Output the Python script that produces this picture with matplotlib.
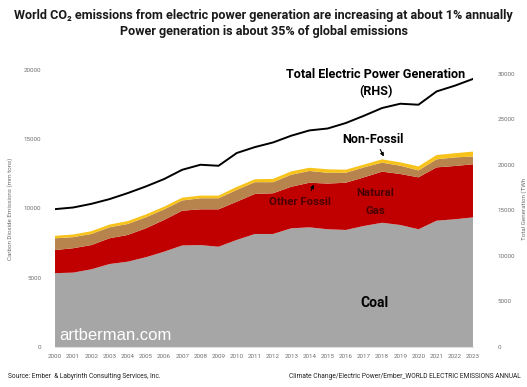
import numpy as np
import matplotlib
matplotlib.use("Agg")
import matplotlib.pyplot as plt

# data
years = list(range(2000, 2024))
coal = [5330, 5370, 5610, 5990, 6160, 6480, 6880, 7330, 7360, 7240, 7730, 8160,
        8160, 8570, 8640, 8500, 8450, 8740, 8970, 8810, 8500, 9120, 9220, 9360]
gas = [1670, 1760, 1750, 1860, 1930, 2090, 2290, 2510, 2580, 2700, 2760, 2890,
       2940, 3000, 3220, 3300, 3410, 3510, 3690, 3680, 3750, 3850, 3850, 3830]
other_fossil = [850, 800, 800, 790, 790, 790, 760, 740, 800, 800, 850, 850,
                800, 870, 850, 780, 720, 720, 650, 600, 500, 580, 620, 560]
non_fossil = [180, 190, 200, 200, 210, 210, 200, 200, 190, 190, 220, 210,
              240, 240, 230, 250, 220, 200, 240, 240, 290, 310, 300, 360]
generation = [15130, 15310, 15710, 16230, 16890, 17620, 18430, 19450, 20000, 19890,
              21290, 21940, 22450, 23190, 23770, 23980, 24580, 25380, 26230, 26700,
              26590, 28050, 28680, 29420]

font = "Roboto"
plt.rcParams["font.family"] = [font, "DejaVu Sans"]

fig = plt.figure(figsize=(5.27, 3.87), dpi=100)
ax = fig.add_axes([0.1044, 0.1034, 0.7931, 0.7157])

ax.stackplot(years, coal, gas, other_fossil, non_fossil,
             colors=["#a6a6a6", "#c00000", "#b8844e", "#f7c21a"], linewidth=0)
ax.set_xlim(2000, 2023)
ax.set_ylim(0, 20000)
ax.set_xticks(years)
ax.set_xticklabels([str(y) for y in years])
ax.set_yticks([0, 5000, 10000, 15000, 20000])
ax.tick_params(axis="both", length=0, labelsize=4.5, colors="#707070", pad=5)
ax.tick_params(axis="y", pad=10)
for s in ["top", "right", "left"]:
    ax.spines[s].set_visible(False)
ax.spines["bottom"].set_color("#d9d9d9")
ax.spines["bottom"].set_linewidth(0.6)
ax.set_ylabel("Carbon Dioxide Emissions (mm tons)", fontsize=4.5, color="#707070", labelpad=8)

ax2 = ax.twinx()
ax2.plot(years, generation, color="black", lw=1.4)
ax2.set_ylim(0, 30400)
ax2.set_yticks([0, 5000, 10000, 15000, 20000, 25000, 30000])
ax2.tick_params(axis="y", length=0, labelsize=4.5, colors="#707070", pad=18)
for s in ["top", "right", "left", "bottom"]:
    ax2.spines[s].set_visible(False)
ax2.set_ylabel("Total Generation (TWh", fontsize=4.5, color="#707070", labelpad=4)

# titles
fig.text(0.5, 1 - 15 / 387, "World CO\u2082 emissions from electric power generation are increasing at about 1% annually",
         ha="center", va="center", fontsize=9.1, fontweight="bold", color="#1a1a1a")
fig.text(0.5, 1 - 32 / 387, "Power generation is about 35% of global emissions",
         ha="center", va="center", fontsize=9.1, fontweight="bold", color="#1a1a1a")

# labels on the chart
def px(x, y):
    return (x / 527, 1 - y / 387)

fig.text(*px(376, 74), "Total Electric Power Generation", ha="center", va="center",
         fontsize=9.1, fontweight="bold", color="black")
fig.text(*px(376, 92), "(RHS)", ha="center", va="center",
         fontsize=9.1, fontweight="bold", color="black")
fig.text(*px(373, 139), "Non-Fossil", ha="center", va="center",
         fontsize=9.1, fontweight="bold", color="black")
fig.text(*px(300, 202), "Other Fossil", ha="center", va="center",
         fontsize=8.2, fontweight="bold", color="#4a0000")
fig.text(*px(375, 193), "Natural", ha="center", va="center",
         fontsize=8.2, fontweight="bold", color="#4a0000")
fig.text(*px(375, 211), "Gas", ha="center", va="center",
         fontsize=8.2, fontweight="bold", color="#4a0000")
fig.text(*px(374, 303), "Coal", ha="center", va="center",
         fontsize=10, fontweight="bold", color="black")
fig.text(*px(59, 335), "artberman.com", ha="left", va="center",
         fontsize=12, color="white", family=["Liberation Sans", "DejaVu Sans"])

# arrows
fig.add_artist(matplotlib.patches.FancyArrowPatch(px(379, 147), px(385, 159),
               transform=fig.transFigure, arrowstyle="-|>", mutation_scale=5,
               color="black", lw=0.8))
fig.add_artist(matplotlib.patches.FancyArrowPatch(px(310, 193), px(315, 182),
               transform=fig.transFigure, arrowstyle="-|>", mutation_scale=5,
               color="black", lw=0.8))

# footer
fig.text(8 / 527, 1 - 377 / 387, "Source: Ember  & Labyrinth Consulting Services, Inc.",
         ha="left", va="center", fontsize=4.8, color="#222222")
fig.text(521 / 527, 1 - 377 / 387, "Climate Change/Electric Power/Ember_WORLD ELECTRIC EMISSIONS ANNUAL",
         ha="right", va="center", fontsize=4.8, color="#222222")

fig.savefig("out.png", dpi=100)
